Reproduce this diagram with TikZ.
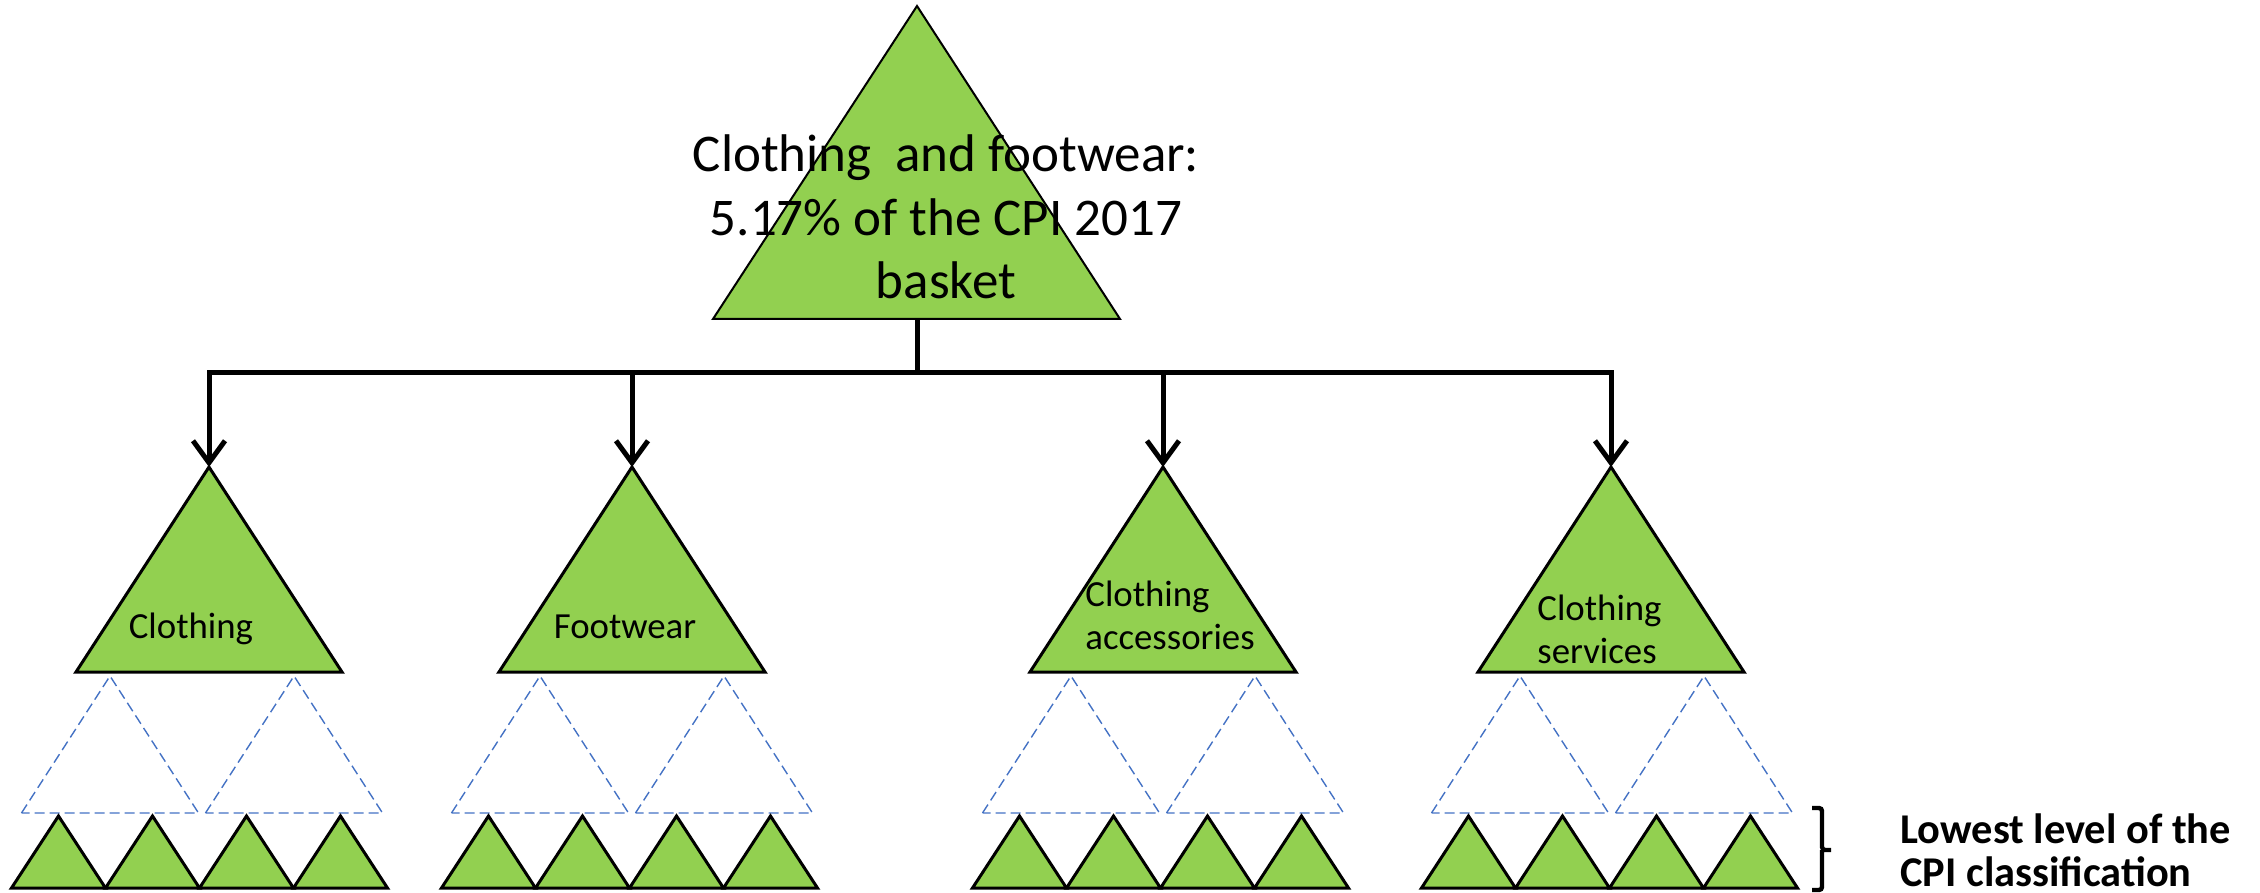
\documentclass[tikz,border=0pt]{standalone}
\usepackage{fontspec}
\setmainfont{Carlito}
\usepackage{tikz}
\usetikzlibrary{arrows.meta}
\definecolor{cpigreen}{HTML}{92D050}
\definecolor{cpiblue}{HTML}{4472C4}

\begin{document}
\begin{tikzpicture}[
  x=0.5pt, y=-0.5pt,
  tri/.style={draw, fill=cpigreen, line width=1.5pt},
  ghost/.style={draw=cpiblue, line width=0.7pt, dash pattern=on 5pt off 2.5pt},
  link/.style={line width=2.5pt, -{Straight Barb[length=11pt, width=16pt]}},
  lbl/.style={font=\fontsize{18.4}{21.5}\selectfont, inner sep=0pt, align=left},
]
\useasboundingbox (0,0) rectangle (2260,893);

% top of the basket
\draw[tri, line width=1pt] (713,319) -- (917,6) -- (1120,319) -- cycle;
\coordinate (topbase) at (917,319);
\coordinate (fork) at (917,372);
\node[font=\fontsize{26.5}{31.7}\selectfont, align=center, inner sep=0pt] (basket) at (946,217)
     {Clothing\ \ and footwear:\\ 5.17\% of the CPI 2017\hspace*{19pt}\\ basket};

% sub-groups with their lower levels
\foreach \name/\cx/\sx in {clo/209/202, foot/632/632, acc/1163/1163, serv/1611/1612} {
  \draw[tri] (\cx-133,672) -- (\cx,467) -- (\cx+133,672) -- cycle;
  \coordinate (\name) at (\cx,467);
  \foreach \d in {-92,92}
    \draw[ghost] (\sx+\d-88.5,813) -- (\sx+\d,676) -- (\sx+\d+88.5,813) -- cycle;
  \foreach \k in {-141,-47,47,141}
    \draw[tri] (\sx-2.5+\k-47,888) -- (\sx-2.5+\k,816) -- (\sx-2.5+\k+47,888) -- cycle;
}

\foreach \name in {clo,foot,acc,serv}
  \draw[link] (topbase) -- (fork) -| (\name);

\node[lbl, anchor=base] (clothing) at (191,638) {Clothing};
\node[lbl, anchor=base] (footwear) at (625,638) {Footwear};
\node[lbl, anchor=base west] (access) at (1085,649) {Clothing\\accessories};
\node[lbl, anchor=base west] (services) at (1537,663) {Clothing\\services};

% lowest level
\draw[line width=2.2pt, rounded corners=1.5pt] (1812,808) -| (1822,850) -- (1831,850)
     (1822,850) |- (1812,890);
\node[font=\bfseries\fontsize{21.2}{21.5}\selectfont, align=left, anchor=base west, inner sep=0pt]
     (lowest) at (1900,886) {Lowest level of the\\CPI classification};
\end{tikzpicture}
\end{document}
